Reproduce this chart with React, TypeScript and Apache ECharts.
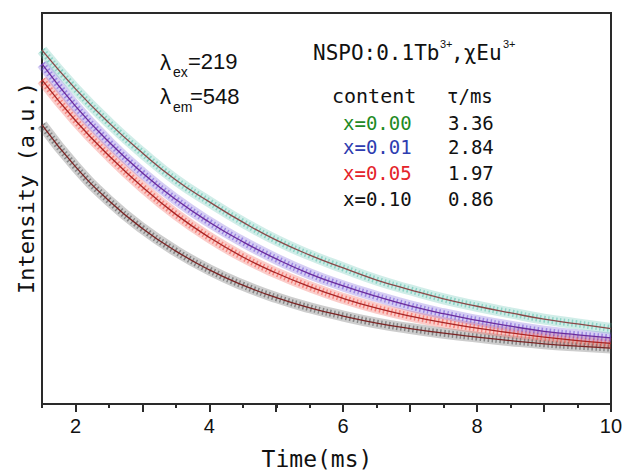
import React, { useEffect, useRef } from "react";
import * as echarts from "echarts";

const times = [1.5, 2, 2.5, 3, 3.5, 4, 4.5, 5, 5.5, 6, 6.5, 7, 7.5, 8, 8.5, 9, 9.5, 10];
const x000 = [90.5, 80.6, 71.9, 64.2, 57.3, 51.7, 46.5, 41.9, 38.1, 34.8, 31.7, 29.2, 26.9, 25.0, 23.3, 21.7, 20.5, 19.3];
const x001 = [87.0, 76.2, 67.0, 59.1, 52.3, 46.5, 41.5, 37.1, 33.3, 30.2, 27.5, 25.1, 23.1, 21.4, 19.9, 18.6, 17.7, 16.9];
const x005 = [82.9, 72.5, 63.5, 55.5, 48.5, 42.6, 37.6, 33.5, 30.0, 27.0, 24.5, 22.5, 20.8, 19.4, 18.2, 17.1, 16.2, 15.5];
const x010 = [71.4, 60.7, 52.0, 44.9, 39.1, 34.3, 30.4, 27.2, 24.6, 22.5, 20.7, 19.3, 18.1, 17.1, 16.2, 15.4, 14.8, 14.3];

const contents = ["x=0.00", "x=0.01", "x=0.05", "x=0.10"];
const taus = ["3.36", "2.84", "1.97", "0.86"];
const textColors = ["#1f8a24", "#2e3cb0", "#e4232a", "#111111"];
const bandColors = ["#55bfab", "#6d4fd6", "#f04a40", "#4a4a4a"];
const fitColors = ["#8a4848", "#6a2a9a", "#a82424", "#7a2424"];

const MONO = "'DejaVu Sans Mono', monospace";
const SANS = "'Liberation Sans', Arial, sans-serif";

export default function App() {
  const ref = useRef<HTMLDivElement>(null);
  useEffect(() => {
    if (!ref.current) return;
    const chart = echarts.init(ref.current, null, { renderer: "svg" });
    const seriesData = [x000, x001, x005, x010];
    const series: any[] = [];
    const order = [3, 2, 1, 0];
    order.forEach((i) => {
      const d = times.map((t, k) => [t, seriesData[i][k]]);
      series.push({
        type: "line", data: d, smooth: true, symbol: "none", silent: true,
        lineStyle: { color: bandColors[i], width: 11, opacity: 0.28 }, z: 2,
      });
      series.push({
        type: "line", data: d, smooth: true, symbol: "none", silent: true,
        lineStyle: { color: bandColors[i], width: 7, opacity: 0.55, type: [1.5, 2.5] }, z: 3,
      });
    });
    order.forEach((i) => {
      const d = times.map((t, k) => [t, seriesData[i][k]]);
      series.push({
        type: "line", data: d, smooth: true, symbol: "none", silent: true,
        lineStyle: { color: fitColors[i], width: 1.3 }, z: 5,
      });
    });

    const graphic: any[] = [];
    const txt = (text: string, x: number, y: number, size: number, font: string, color = "#111") =>
      graphic.push({
        type: "text", x, y,
        style: { text, fontSize: size, fontFamily: font, fill: color, textAlign: "left", verticalAlign: "middle" },
      });
    txt("λ", 160, 62, 22, SANS);
    txt("ex", 173, 72, 14, SANS);
    txt("=219", 188, 61, 22, SANS);
    txt("λ", 160, 96, 22, SANS);
    txt("em", 173, 107, 14, SANS);
    txt("=548", 190, 96, 22, SANS);

    txt("NSPO:0.1Tb", 313, 53, 21, MONO);
    txt("3+", 440, 44, 11, SANS);
    txt(",χEu", 451, 53, 21, MONO);
    txt("3+", 503, 44, 11, SANS);

    txt("content", 332, 96, 20, MONO);
    txt("τ/ms", 447, 96, 19, MONO);
    const rowY = [123, 147, 173, 199];
    contents.forEach((c, i) => {
      txt(c, 343, rowY[i], 19, MONO, textColors[i]);
      txt(taus[i], 448, rowY[i], 19, MONO, "#111");
    });

    graphic.push({
      type: "text", x: 317, y: 459,
      style: { text: "Time(ms)", fontSize: 23, fontFamily: MONO, fill: "#111", textAlign: "center", verticalAlign: "middle" },
    });
    graphic.push({
      type: "text", x: 26, y: 188, rotation: Math.PI / 2,
      style: { text: "Intensity (a.u.)", fontSize: 22, fontFamily: MONO, fill: "#111", textAlign: "center", verticalAlign: "middle" },
    });

    const axisColor = "#2a2a2a";
    chart.setOption({
      animation: false,
      backgroundColor: "#ffffff",
      grid: [
        { left: 42, right: 14, top: 13, bottom: 67, show: true, borderColor: axisColor, borderWidth: 2, backgroundColor: "transparent" },
        { left: 75.47, right: 14, top: 13, bottom: 67, show: false },
      ],
      xAxis: [
        {
          type: "value", gridIndex: 0, min: 1.5, max: 10, interval: 0.5, position: "bottom",
          axisLine: { show: true, onZero: false, lineStyle: { color: axisColor, width: 2 } },
          axisTick: { show: true, inside: false, length: 4, lineStyle: { color: axisColor, width: 2 } },
          axisLabel: { show: false },
          splitLine: { show: false },
        },
        {
          type: "value", gridIndex: 1, min: 2, max: 10, interval: 1, position: "bottom",
          axisLine: { show: true, onZero: false, lineStyle: { color: axisColor, width: 2, opacity: 0 } },
          axisTick: { show: true, inside: false, length: 8, lineStyle: { color: axisColor, width: 2 } },
          axisLabel: {
            show: true, margin: 12, fontSize: 20, fontFamily: SANS, color: "#111",
            formatter: (v: number) => (v % 2 === 0 ? String(v) : ""),
          },
          splitLine: { show: false },
        },
      ],
      yAxis: [
        {
          type: "value", gridIndex: 0, min: 0, max: 100,
          axisLine: { show: true, onZero: false, lineStyle: { color: axisColor, width: 2 } },
          axisTick: { show: false }, axisLabel: { show: false }, splitLine: { show: false },
        },
        { type: "value", gridIndex: 1, min: 0, max: 100, show: false },
      ],
      series,
      graphic,
    });
    return () => chart.dispose();
  }, []);
  return <div ref={ref} style={{ width: 625, height: 471, position: "absolute", left: 0, top: 0 }} />;
}
